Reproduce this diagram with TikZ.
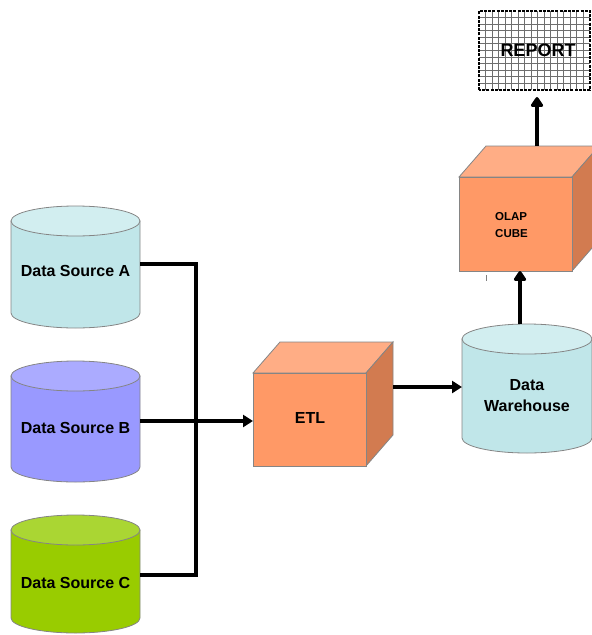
\documentclass[tikz,border=0pt]{standalone}
\usepackage{fontspec}
\setmainfont{Liberation Sans}
\usetikzlibrary{arrows.meta,calc}

\definecolor{srcA}{HTML}{C0E6E9}
\definecolor{srcAlid}{HTML}{D2EEF0}
\definecolor{srcB}{HTML}{9999FF}
\definecolor{srcBlid}{HTML}{ABABFF}
\definecolor{srcC}{HTML}{99CC00}
\definecolor{srcClid}{HTML}{AAD633}
\definecolor{cubefront}{HTML}{FF9966}
\definecolor{cubetop}{HTML}{FFAD85}
\definecolor{cubeside}{HTML}{D27B50}
\definecolor{edgegray}{HTML}{858585}
\definecolor{gridgray}{HTML}{6E6E6E}

\tikzset{
  shapeline/.style={draw=edgegray, line width=0.8pt},
  flow/.style={line width=3.6pt, line join=miter},
  flowarrow/.style={flow, -{Triangle[length=10pt,width=12pt]}},
  uparrow/.style={flow, -{Triangle[length=11pt,width=14pt,round]}},
  label/.style={font=\bfseries\fontsize{16}{21}\selectfont, align=center, inner sep=0pt},
  small label/.style={font=\bfseries\fontsize{11.5}{16.5}\selectfont, align=left, inner sep=0pt},
  anchorbox/.style={draw=none, inner sep=0pt, outer sep=0pt},
  gridline/.style={gridgray, line width=1pt},
}

% database cylinder: name, left, right, top, bottom, body colour, lid colour, label y, label
\newcommand\dbcyl[9]{%
  \pgfmathsetmacro\cylcx{(#2+#3)/2}%
  \pgfmathsetmacro\cylrx{(#3-#2)/2}%
  \pgfmathsetmacro\cyltop{-(#4)-15}%
  \pgfmathsetmacro\cylbot{-(#5)+15}%
  \pgfmathsetmacro\cylcy{-((#4)+(#5))/2}%
  \pgfmathsetmacro\cylw{#3-#2}%
  \pgfmathsetmacro\cylh{#5-#4}%
  \filldraw[shapeline, fill=#6] (#2,\cyltop) -- (#2,\cylbot)
     arc[start angle=180, end angle=360, x radius=\cylrx pt, y radius=15pt]
     -- (#3,\cyltop) -- cycle;
  \filldraw[shapeline, fill=#7] (\cylcx,\cyltop) ellipse[x radius=\cylrx pt, y radius=15pt];
  \node[anchorbox, minimum width=\cylw pt, minimum height=\cylh pt] (#1) at (\cylcx,\cylcy) {};
  \node[label] (#1-text) at (\cylcx,-#8) {#9};
}

% box drawn in perspective: name, left, top, right, bottom (front face)
\newcommand\cube[5]{%
  \pgfmathsetmacro\cbw{#4-#2}%
  \pgfmathsetmacro\cbh{#5-#3}%
  \filldraw[shapeline, fill=cubetop] (#2,-#3) -- ++(27,31) -- ($(#4,-#3)+(27,31)$) -- (#4,-#3) -- cycle;
  \filldraw[shapeline, fill=cubeside] (#4,-#3) -- ++(27,31) -- ($(#4,-#5)+(27,31)$) -- (#4,-#5) -- cycle;
  \filldraw[shapeline, fill=cubefront] (#2,-#3) rectangle (#4,-#5);
  \node[anchorbox, minimum width=\cbw pt, minimum height=\cbh pt] (#1) at ({(#2+#4)/2},{-(#3+#5)/2}) {};
}

\begin{document}
\begin{tikzpicture}[x=1pt, y=1pt]
  \useasboundingbox (0,0) rectangle (592,-635);
  \clip (0,0) rectangle (592,-635);

  % sources
  \dbcyl{srcA}{11}{140}{206}{328}{srcA}{srcAlid}{271}{Data Source A}
  \dbcyl{srcB}{11}{140}{361}{482}{srcB}{srcBlid}{428}{Data Source B}
  \dbcyl{srcC}{11}{140}{515}{633}{srcC}{srcClid}{583}{Data Source C}

  % processing and storage
  \cube{etl}{253}{373}{366}{466}
  \node[label] (etl-text) at (310,-418) {ETL};

  \dbcyl{dw}{462}{592}{324}{453}{srcA}{srcAlid}{396}{Data\\Warehouse}

  \cube{olap}{459}{177}{572}{271}
  \node[small label, anchor=west] (olap-text) at (495,-225) {OLAP\\CUBE};
  \coordinate (olapback) at (537,-146);

  % report sheet
  \node[anchorbox, minimum width=111pt, minimum height=79pt] (report) at (534.5,-50.5) {};
  \fill[white] (report.south west) rectangle (report.north east);
  \foreach \i in {1,...,16} {
    \draw[gridline] ($(report.south west)+(\i*6.53,0)$) -- ++(0,79);
  }
  \foreach \j in {1,...,11} {
    \draw[gridline] ($(report.south west)+(0,\j*6.58)$) -- ++(111,0);
  }
  \draw[black, line width=2pt, dash pattern=on 3pt off 1.2pt] (report.south west) rectangle (report.north east);
  \node[font=\bfseries\fontsize{18}{22}\selectfont, inner sep=0pt] (report-text) at (538,-50) {REPORT};

  % feeds into ETL
  \draw[flow] ([yshift=3pt]srcA.east) -| (196,-421);
  \draw[flow] ([yshift=-1pt]srcC.east) -| (196,-421);
  \draw[flowarrow] (srcB.east |- 0,-421) -- (etl.west |- 0,-421);

  % ETL into warehouse
  \draw[flowarrow] (393,-387) -- (dw.west |- 0,-387);

  % warehouse up to cube, cube up to report
  \draw[uparrow] (dw.north -| 520,0) -- (olap.south -| 520,0);
  \draw[uparrow, shorten >=7pt] (olapback) -- (report.south -| olapback);

  % small stray tick below the cube
  \draw[gray, line width=0.8pt] (486,-275) -- (486,-281);
\end{tikzpicture}
\end{document}
